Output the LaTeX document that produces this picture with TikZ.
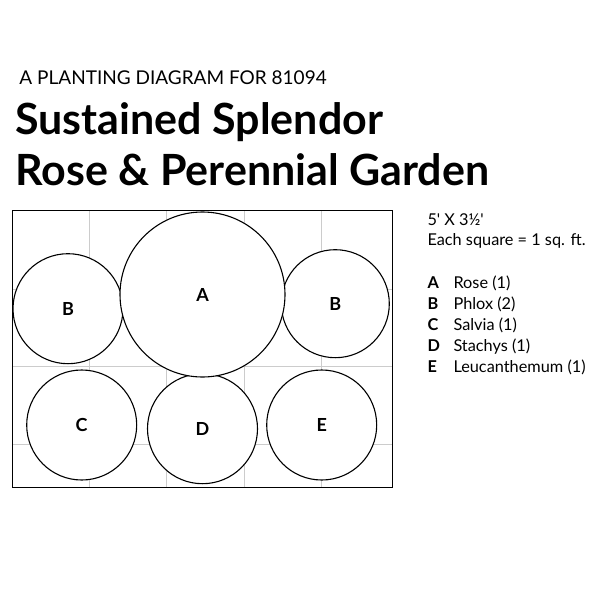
\documentclass[tikz,border=0pt]{standalone}
\usepackage{fontspec}
\setmainfont{Lato}
\usetikzlibrary{positioning}

\begin{document}
\begin{tikzpicture}[
x=1pt, y=-1pt,
    P/.style = {circle, draw, fill=white, line width=1.1pt,% styles of plant circles
                inner sep=0pt, font=\bfseries\fontsize{18}{18}\selectfont},
    G/.style = {draw=black!20, line width=0.9pt},% grid of squares
    T/.style = {anchor=base west, inner sep=0pt,% styles of legend lines
                font=\fontsize{16.3}{16.3}\selectfont},
                        ]
\useasboundingbox (0,0) rectangle (600,600);
% titles
\node[anchor=base west, inner sep=0pt, font=\fontsize{19}{19}\selectfont]
    (sub) at (19.3,84) {A PLANTING DIAGRAM FOR 81094};
\node[anchor=base west, inner sep=0pt, font=\bfseries\fontsize{43}{43}\selectfont]
    (title1) at (15,134) {Sustained Splendor};
\node[anchor=base west, inner sep=0pt, font=\bfseries\fontsize{43}{43}\selectfont]
    (title2) at (15,185) {Rose \& Perennial Garden};
% bed
\foreach \x in {89,166.7,244.3,321.7}% <-- vertical grid lines
    \draw[G] (\x,210.7) -- (\x,487.3);
\foreach \y in {289,366,444.3}% <-- horizontal grid lines
    \draw[G] (12.3,\y) -- (392.3,\y);
\draw[line width=1.4pt] (12.3,210.7) rectangle (392.3,487.3);
% plants
\node[P, minimum size=110pt] (B1) at (68,308.7) {B};
\node[P, minimum size=108pt] (B2) at (335.3,303.7) {B};
\node[P, minimum size=110pt] (C) at (81.7,425) {C};
\node[P, minimum size=110pt] (D) at (202.5,428.7) {D};
\node[P, minimum size=110pt] (E) at (321.7,425) {E};
\node[P, minimum size=165pt] (A) at (202.5,294.5) {A};
% legend
\node[T] (size) at (427.3,225) {5\textquotesingle{} X 3½\textquotesingle};
\node[T] (square) at (427.3,245.7) {Each square = 1 sq. ft.};
\foreach \k/\n [count=\i] in {A/Rose (1),B/Phlox (2),C/Salvia (1),D/Stachys (1),E/Leucanthemum (1)}% <-- content of legend
{   \node[T, font=\bfseries\fontsize{16.3}{16.3}\selectfont] (key\k) at (427.3,{267.3+21*\i}) {\k};
    \node[T] (name\k) at (453.3,{267.3+21*\i}) {\n};
}
\end{tikzpicture}
\end{document}
